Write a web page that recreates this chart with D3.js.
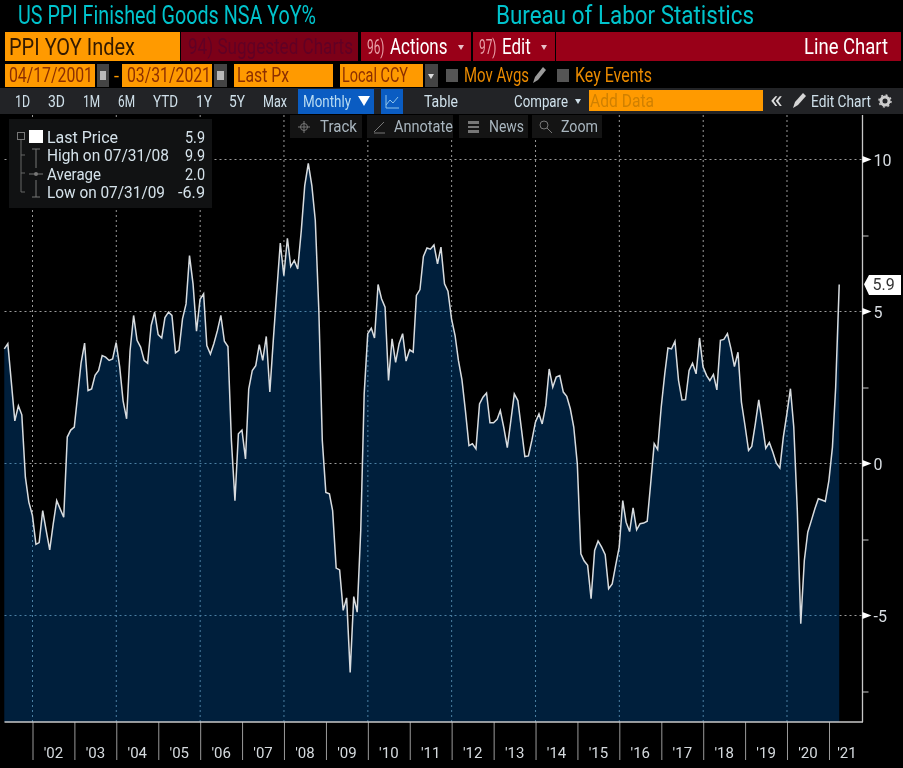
<!DOCTYPE html>
<html>
<head>
<meta charset="utf-8">
<script src="https://cdn.jsdelivr.net/npm/d3@7"></script>
<style>
  html, body { margin: 0; padding: 0; background: #000; overflow: hidden; }
  svg { display: block; filter: blur(0.45px); }
  text { font-family: "Liberation Sans Narrow", "Roboto", sans-serif; }
</style>
</head>
<body>
<svg id="chart" width="903" height="768"></svg>
<script>
// monthly values, Apr 2001 to Mar 2021
var ppiValues = [
  3.77, 3.94, 2.7, 1.4, 1.9, 1.6, -0.45, -1.27, -1.7,
  -2.66, -2.6, -1.55, -2.2, -2.84, -2.0, -1.22, -1.5, -1.77, 0.87, 1.1, 1.2,
  2.3, 3.3, 3.96, 2.4, 2.45, 2.9, 3.06, 3.55, 3.5, 3.39, 3.44, 3.98,
  3.17, 2.07, 1.47, 3.7, 4.87, 4.05, 3.83, 3.39, 3.3, 4.54, 4.98, 4.24,
  4.13, 4.8, 4.98, 4.87, 3.64, 3.72, 4.76, 5.25, 6.84, 5.9, 4.35, 5.4,
  5.58, 3.88, 3.6, 3.94, 4.37, 4.87, 4.02, 3.85, 0.76, -1.22, 0.98, 1.1,
  0.15, 2.45, 3.06, 3.22, 3.91, 3.39, 4.18, 2.35, 4.05, 5.7, 7.25, 6.18,
  7.41, 6.48, 6.68, 6.4, 7.66, 9.14, 9.87, 9.14, 8.0, 5.03, 0.76, -0.95,
  -1.0, -1.55, -3.44, -3.5, -4.83, -4.42, -6.87, -4.38, -4.89, -2.2, 2.29, 4.27,
  4.45, 4.13, 5.89, 5.42, 5.14, 2.73, 4.1, 3.33, 3.94, 4.27, 3.37, 3.74,
  3.66, 5.53, 5.72, 6.81, 7.09, 7.05, 7.19, 6.57, 7.12, 5.91, 5.67, 4.76,
  4.21, 3.39, 2.75, 1.74, 0.59, 0.65, 0.48, 1.96, 2.18, 2.32, 1.34, 1.34,
  1.45, 1.74, 1.17, 0.52, 1.41, 2.29, 2.07, 1.14, 0.23, 0.25, 0.76, 1.36,
  1.63, 1.3, 1.91, 3.11, 2.51, 2.84, 2.89, 2.35, 2.21, 1.8, 1.2, -0.01,
  -2.97, -3.2, -3.35, -4.45, -2.86, -2.55, -2.75, -3.0, -4.12, -3.96, -3.35, -2.75,
  -1.22, -1.93, -2.24, -1.46, -2.18, -1.98, -1.96, -1.9, -0.67, 0.65, 0.46, 1.85,
  2.95, 3.8, 3.77, 4.02, 2.73, 2.09, 2.1, 3.06, 3.3, 2.95, 4.13, 3.17,
  2.89, 2.73, 2.93, 2.42, 4.05, 4.08, 4.27, 3.77, 3.19, 3.66, 2.02, 1.25,
  0.43, 0.56, 1.3, 2.09, 1.3, 0.5, 0.69, 0.37, 0.01, -0.15, 0.87, 1.63,
  2.46, 1.2, -1.55, -5.27, -3.19, -2.26, -1.88, -1.49, -1.16, -1.2, -1.25, -0.56,
  0.54, 2.5, 5.89
];
var yearTicks = [2002, 2003, 2004, 2005, 2006, 2007, 2008, 2009, 2010, 2011, 2012, 2013, 2014, 2015, 2016, 2017, 2018, 2019, 2020, 2021];
var yearLabels = ["'02", "'03", "'04", "'05", "'06", "'07", "'08", "'09", "'10", "'11", "'12", "'13", "'14", "'15", "'16", "'17", "'18", "'19", "'20", "'21"];
var gridYears = [2002, 2004, 2006, 2008, 2010, 2012, 2014, 2016, 2018, 2020];
var majorTicks = [10, 5, 0, -5];
var minorTicks = [7.5, 2.5, -2.5, -7.5];
var legendNames = ["Last Price", "High on 07/31/08", "Average", "Low on 07/31/09"];
var legendValues = ["5.9", "9.9", "2.0", "-6.9"];

var svg = d3.select("#chart");

var plotLeft = 4.5, axisX = 862.5, plotTop = 115, plotBottom = 722;

// month ends starting at April 2001
var dates = ppiValues.map(function(v, i) { return new Date(2001, 4 + i, 0); });

var x = d3.scaleTime()
  .domain([new Date(2002, 0, 1), new Date(2021, 0, 1)])
  .range([32.5, 829]);
var y = d3.scaleLinear()
  .domain([-5, 10])
  .range([615.5, 159.5]);

svg.append("rect").attr("width", 903).attr("height", 768).attr("fill", "#000");

// grid over the black part
function drawGrid(g, color) {
  g.selectAll(".gx").data(gridYears).enter().append("line")
    .attr("x1", function(d) { return x(new Date(d, 0, 1)); })
    .attr("x2", function(d) { return x(new Date(d, 0, 1)); })
    .attr("y1", plotTop).attr("y2", plotBottom)
    .attr("stroke", color).attr("stroke-width", 1).attr("stroke-dasharray", "2,3");
  g.selectAll(".gy").data(majorTicks).enter().append("line")
    .attr("x1", plotLeft).attr("x2", axisX)
    .attr("y1", function(d) { return y(d); })
    .attr("y2", function(d) { return y(d); })
    .attr("stroke", color).attr("stroke-width", 1).attr("stroke-dasharray", "2,3");
}
drawGrid(svg.append("g"), "#9a9a9a");

var area = d3.area()
  .x(function(d, i) { return x(dates[i]); })
  .y0(plotBottom)
  .y1(function(d) { return y(d); });
var line = d3.line()
  .x(function(d, i) { return x(dates[i]); })
  .y(function(d) { return y(d); });

svg.append("path").datum(ppiValues).attr("d", area).attr("fill", "#001f3c");

// grid inside the area is blue
svg.append("clipPath").attr("id", "areaClip")
  .append("path").datum(ppiValues).attr("d", area);
drawGrid(svg.append("g").attr("clip-path", "url(#areaClip)"), "#4a7fa2");

svg.append("path").datum(ppiValues).attr("d", line)
  .attr("fill", "none").attr("stroke", "#d8dcdf").attr("stroke-width", 1.5);

// axes
var xAxis = d3.axisBottom(x)
  .tickValues(yearTicks.map(function(d) { return new Date(d, 0, 1); }))
  .tickSize(38).tickFormat("");
var gx = svg.append("g").attr("transform", "translate(0," + plotBottom + ")").call(xAxis);
gx.select(".domain").remove();
gx.selectAll("line").attr("stroke", "#9a9a9a");

svg.append("line").attr("x1", plotLeft).attr("x2", axisX + 0.5)
  .attr("y1", plotBottom).attr("y2", plotBottom).attr("stroke", "#c8c8c8").attr("stroke-width", 1.3);

svg.selectAll(".yearLabel").data(yearLabels).enter().append("text")
  .attr("x", function(d, i) { return x(new Date(yearTicks[i], 0, 1)) + (i == 19 ? 18 : 21); })
  .attr("y", 758)
  .attr("text-anchor", "middle")
  .attr("font-size", 15)
  .attr("fill", "#d5dade")
  .text(function(d) { return d; });

var yAxis = d3.axisRight(y).tickValues(minorTicks).tickSize(6).tickFormat("");
var gy = svg.append("g").attr("transform", "translate(" + axisX + ",0)").call(yAxis);
gy.select(".domain").remove();
gy.selectAll("line").attr("stroke", "#c8c8c8");

svg.append("line").attr("x1", axisX).attr("x2", axisX)
  .attr("y1", plotTop).attr("y2", plotBottom).attr("stroke", "#c8c8c8").attr("stroke-width", 1.3);

svg.selectAll(".yTri").data(majorTicks).enter().append("path")
  .attr("d", function(d) { return "M" + axisX + "," + (y(d) - 3.5) + "L" + (axisX + 9) + "," + y(d) + "L" + axisX + "," + (y(d) + 3.5) + "Z"; })
  .attr("fill", "#fff");
svg.selectAll(".yLabel").data(majorTicks).enter().append("text")
  .attr("x", 873.5)
  .attr("y", function(d) { return y(d) + 6; })
  .attr("font-size", 16)
  .attr("fill", "#d8dde2")
  .text(function(d) { return d; });

// last value flag
svg.append("path")
  .attr("d", "M864," + y(5.9) + "L869,275L901,275L901,295L869,295Z")
  .attr("fill", "#fff");
svg.append("text").attr("x", 872.5).attr("y", y(5.9) + 6)
  .attr("font-size", 16).attr("fill", "#333").text("5.9");

// header helpers: fixed widths since the terminal font is tall and narrow
function box(x0, y0, x1, y1, color) {
  svg.append("rect").attr("x", x0).attr("y", y0).attr("width", x1 - x0).attr("height", y1 - y0).attr("fill", color);
}
function label(x0, base, str, w, color, size) {
  svg.append("text").attr("x", x0).attr("y", base)
    .attr("font-size", size)
    .attr("textLength", w).attr("lengthAdjust", "spacingAndGlyphs")
    .attr("fill", color).text(str);
}
// stretched text for the menu entries, small font so the pieces sit apart
function tallLabel(x0, base, str, sx, sy, color, size) {
  svg.append("text")
    .attr("transform", "translate(" + x0 + "," + base + ") scale(" + sx + "," + sy + ")")
    .attr("font-size", size)
    .style("font-family", "Roboto")
    .attr("fill", color).text(str);
}
function caret(cx, cy, color) {
  svg.append("path").attr("d", "M" + (cx - 3) + "," + (cy - 2) + "L" + (cx + 3) + "," + (cy - 2) + "L" + cx + "," + (cy + 3) + "Z").attr("fill", color);
}

var orange = "#ff9a00", red = "#990018", darkBar = "#222326", textLight = "#cfe0ea";

// title row
label(18, 24, "US PPI Finished Goods NSA YoY%", 298, "#00c3cc", 25);
label(496, 24, "Bureau of Labor Statistics", 258, "#00c3cc", 25);

// red bar row
box(5, 32, 180, 61, orange);
label(9, 55, "PPI YOY Index", 126, "#331a00", 24);
box(181, 32, 358, 61, "#7c0018");
label(188, 54, "94) Suggested Charts", 165, "#610025", 22);
box(361, 32, 471, 61, red);
tallLabel(367, 54, "96)", 0.85, 1.5, "#e8a0a8", 14);
tallLabel(390, 54, "Actions", 1, 1.3, "#fff", 17);
caret(461, 47, "#e8c0c8");
box(473, 32, 555, 61, red);
tallLabel(479, 54, "97)", 0.85, 1.5, "#e8a0a8", 14);
tallLabel(502, 54, "Edit", 1, 1.3, "#fff", 17);
caret(544, 47, "#e8c0c8");
box(556, 32, 901, 61, red);
label(804, 54, "Line Chart", 84, "#fff", 22);

// date row
box(5, 64, 95, 87, orange);
label(9, 82, "04/17/2001", 84, "#8c2f00", 20);
box(97, 64, 109, 87, "#444");
box(100, 71, 106, 80, "#b8b8b8");
label(114, 82, "-", 5, "#ff9a00", 18);
box(122, 64, 212, 87, orange);
label(127, 82, "03/31/2021", 84, "#8c2f00", 20);
box(214, 64, 227, 87, "#444");
box(217, 71, 224, 80, "#b8b8b8");
box(234, 64, 333, 87, orange);
label(237, 82, "Last Px", 52, "#8c2f00", 20);
box(340, 64, 423, 87, orange);
label(342, 82, "Local CCY", 66, "#8c2f00", 20);
box(425, 64, 438, 87, "#444");
caret(431, 76, "#ddd");
box(446, 69, 458, 82, "#555");
label(464, 82, "Mov Avgs", 65, "#e98a00", 20);
svg.append("path").attr("d", "M533,83L535,77L543,67L546,70L538,80Z").attr("fill", "#9a9a9a");
box(557, 69, 569, 82, "#555");
label(575, 82, "Key Events", 77, "#e98a00", 20);

// range row
box(0, 88, 903, 114, darkBar);
var rangeNames = ["1D", "3D", "1M", "6M", "YTD", "1Y", "5Y", "Max"];
var rangeLeft = [15, 48, 83, 118, 153, 196, 229, 263];
var rangeWidth = [15, 17, 17, 17, 25, 16, 16, 24];
rangeNames.forEach(function(d, i) {
  label(rangeLeft[i], 107, d, rangeWidth[i], textLight, 17);
});
box(298, 89, 374, 114, "#0a5cc2");
label(303, 107, "Monthly", 48, "#b9dcf2", 17);
svg.append("path").attr("d", "M358,96L370,96L364,106Z").attr("fill", "#fff");
box(381, 89, 403, 114, "#0a5cc2");
svg.append("path").attr("d", "M386,95V108H399M386,105L390,100L393,103L398,97").attr("fill", "none").attr("stroke", "#8fc4ea");
label(424, 107, "Table", 34, textLight, 17);
label(514, 107, "Compare", 54, textLight, 17);
caret(578, 101, textLight);
box(589, 90, 763, 111, orange);
label(590, 107, "Add Data", 64, "#d08000", 18);
label(770, 108, "«", 13, "#ddd", 24);
svg.append("path").attr("d", "M793,108L795,102L803,93L806,96L798,105Z").attr("fill", "#d5d5d5");
label(811, 107, "Edit Chart", 60, textLight, 17);
svg.append("circle").attr("cx", 885).attr("cy", 101).attr("r", 4).attr("fill", "none").attr("stroke", "#ccc").attr("stroke-width", 3);
svg.append("circle").attr("cx", 885).attr("cy", 101).attr("r", 6).attr("fill", "none").attr("stroke", "#ccc").attr("stroke-width", 1.5).attr("stroke-dasharray", "2,2.7");

// chart tools row
var toolNames = ["Track", "Annotate", "News", "Zoom"];
var toolBox = [[290, 362], [367, 453], [459, 528], [532, 602]];
var toolText = [[320, 37], [394, 59], [489, 35], [561, 37]];
toolNames.forEach(function(d, i) {
  box(toolBox[i][0], 115, toolBox[i][1], 138, "#141414");
  label(toolText[i][0], 132, d, toolText[i][1], "#a9b6bf", 16);
});
svg.append("circle").attr("cx", 304).attr("cy", 127).attr("r", 3.5).attr("fill", "none").attr("stroke", "#777");
svg.append("path").attr("d", "M298,127H310M304,121V133").attr("stroke", "#777");
svg.append("path").attr("d", "M374,132L384,122M374,133H385").attr("stroke", "#777");
box(468, 121, 479, 124, "#777");
box(468, 126, 479, 128, "#777");
box(468, 130, 479, 133, "#777");
svg.append("circle").attr("cx", 544).attr("cy", 125).attr("r", 4).attr("fill", "none").attr("stroke", "#777");
svg.append("path").attr("d", "M547,128L552,133").attr("stroke", "#777");

// legend box
box(9, 119, 212, 208, "#111213");
box(29, 130, 43, 143, "#fff");
svg.append("rect").attr("x", 17.5).attr("y", 132.5).attr("width", 7).attr("height", 7).attr("fill", "none").attr("stroke", "#777");
svg.append("path").attr("d", "M21,140V192H25M21,155H25M21,173H25").attr("fill", "none").attr("stroke", "#666");
svg.append("path").attr("d", "M32,149H40M36,149V168").attr("stroke", "#777").attr("fill", "none");
svg.append("path").attr("d", "M29,174H43").attr("stroke", "#777");
svg.append("circle").attr("cx", 36).attr("cy", 174).attr("r", 2).attr("fill", "#777");
svg.append("path").attr("d", "M36,180V197M32,197H40").attr("stroke", "#777").attr("fill", "none");
var legendBase = [143, 161, 180, 198];
var legendWidth = [71, 122, 54, 118];
var legendValueLeft = [185, 185, 185, 178];
var legendValueWidth = [20, 20, 20, 27];
legendNames.forEach(function(d, i) {
  label(47, legendBase[i], d, legendWidth[i], "#d5e2ea", 17);
  label(legendValueLeft[i], legendBase[i], legendValues[i], legendValueWidth[i], "#d5e2ea", 17);
});
</script>
</body>
</html>
